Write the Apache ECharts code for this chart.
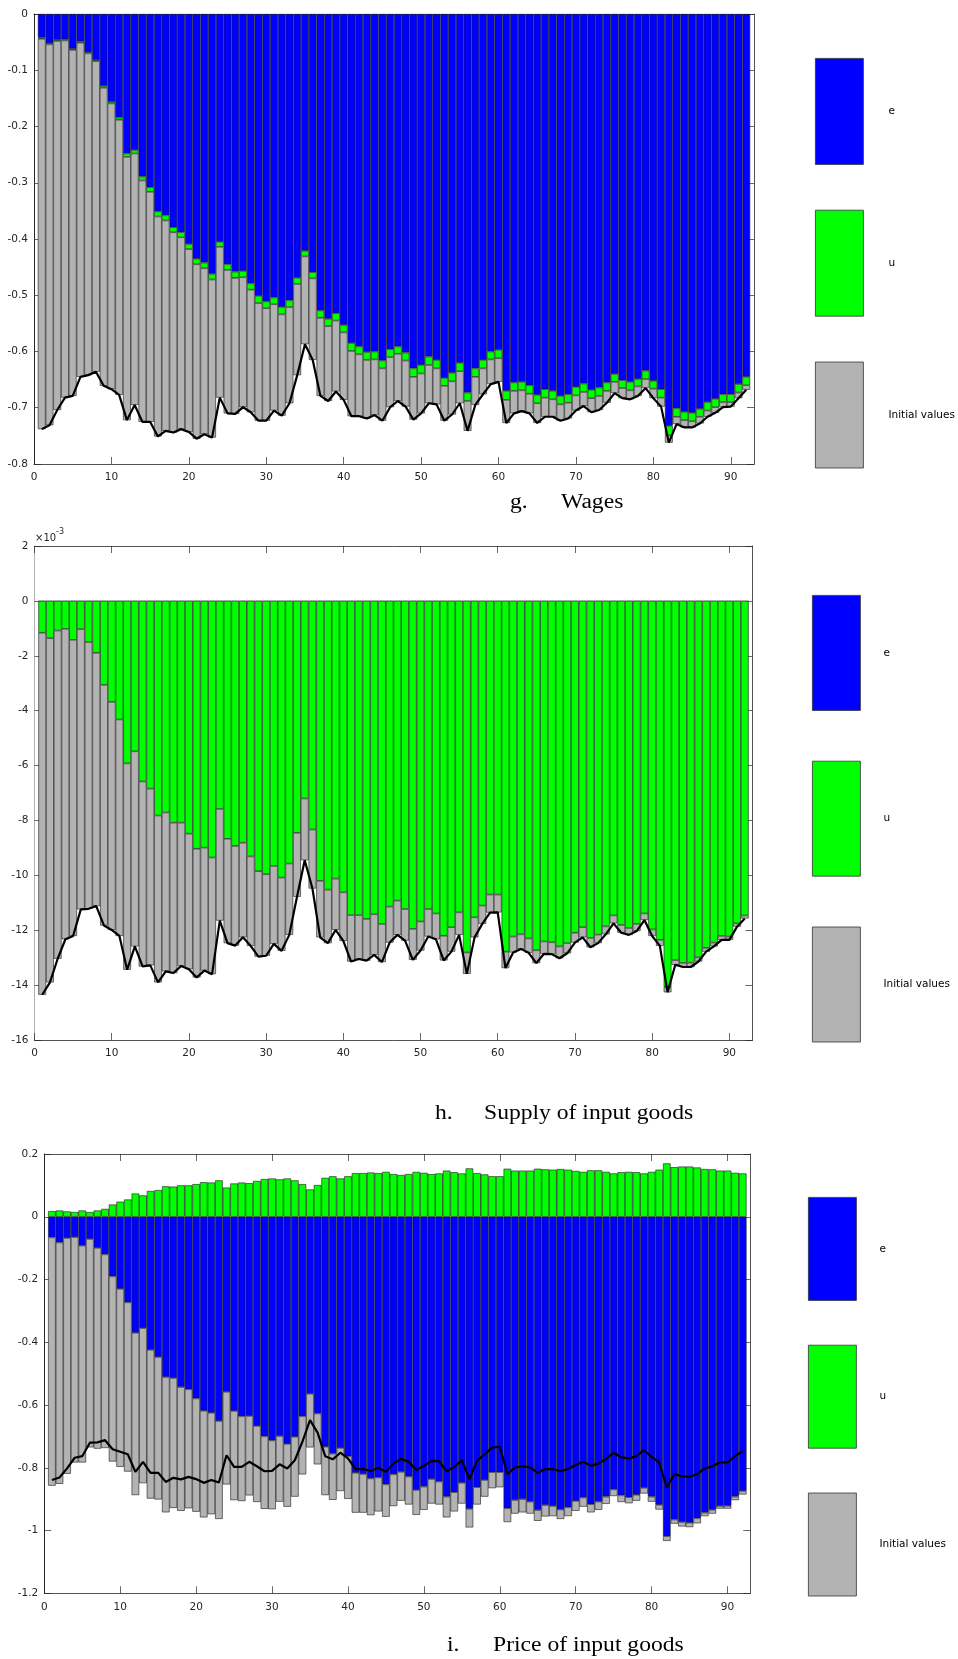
<!DOCTYPE html>
<html>
<head>
<meta charset="utf-8">
<script src="https://cdn.jsdelivr.net/npm/echarts@6/dist/echarts.min.js"></script>
<style>
  html, body { margin: 0; padding: 0; background: #ffffff; }
  #chart { width: 958px; height: 1659px; }
</style>
</head>
<body>
<div id="chart"></div>
<script>
// Periods on the horizontal axis
const periods = [1,2,3,4,5,6,7,8,9,10,11,12,13,14,15,16,17,18,19,20,21,22,23,24,25,26,27,28,29,30,
  31,32,33,34,35,36,37,38,39,40,41,42,43,44,45,46,47,48,49,50,51,52,53,54,55,56,57,58,59,60,
  61,62,63,64,65,66,67,68,69,70,71,72,73,74,75,76,77,78,79,80,81,82,83,84,85,86,87,88,89,90,91,92];
const xLimits = [0, 93];
const xTickLabels = ['0','10','20','30','40','50','60','70','80','90'];
const legendNames = ['e', 'u', 'Initial values'];

// g. Wages — contributions of e, u and the initial values
const wagesE = [-0.042,-0.052,-0.046,-0.045,-0.062,-0.049,-0.068,-0.082,-0.128,-0.156,
  -0.184,-0.248,-0.242,-0.289,-0.308,-0.351,-0.358,-0.379,-0.388,-0.409,
  -0.435,-0.442,-0.462,-0.405,-0.445,-0.458,-0.457,-0.479,-0.501,-0.511,
  -0.504,-0.521,-0.509,-0.469,-0.421,-0.459,-0.527,-0.542,-0.532,-0.553,
  -0.585,-0.591,-0.601,-0.600,-0.616,-0.596,-0.591,-0.602,-0.630,-0.624,
  -0.609,-0.615,-0.647,-0.638,-0.620,-0.673,-0.630,-0.615,-0.600,-0.597,
  -0.670,-0.655,-0.654,-0.660,-0.677,-0.667,-0.670,-0.679,-0.676,-0.663,
  -0.657,-0.668,-0.664,-0.655,-0.640,-0.651,-0.654,-0.649,-0.634,-0.652,
  -0.667,-0.732,-0.701,-0.707,-0.709,-0.702,-0.690,-0.684,-0.676,-0.676,
  -0.658,-0.645];
const wagesU = [-0.002,-0.002,-0.002,-0.002,-0.002,-0.002,-0.002,-0.002,-0.003,-0.003,
  -0.004,-0.006,-0.006,-0.007,-0.008,-0.009,-0.009,-0.009,-0.009,-0.009,
  -0.010,-0.010,-0.010,-0.009,-0.010,-0.011,-0.011,-0.011,-0.013,-0.012,
  -0.012,-0.013,-0.012,-0.011,-0.010,-0.011,-0.013,-0.013,-0.013,-0.013,
  -0.014,-0.014,-0.014,-0.014,-0.014,-0.014,-0.013,-0.014,-0.015,-0.015,
  -0.015,-0.015,-0.014,-0.015,-0.015,-0.015,-0.015,-0.015,-0.014,-0.015,
  -0.016,-0.015,-0.015,-0.015,-0.015,-0.015,-0.015,-0.015,-0.015,-0.015,
  -0.015,-0.015,-0.015,-0.015,-0.014,-0.014,-0.015,-0.013,-0.015,-0.014,
  -0.015,-0.017,-0.015,-0.015,-0.015,-0.014,-0.015,-0.015,-0.014,-0.014,
  -0.015,-0.015];
const wagesInit = [-0.694,-0.677,-0.656,-0.635,-0.615,-0.594,-0.572,-0.552,-0.530,-0.508,
  -0.489,-0.468,-0.447,-0.429,-0.409,-0.391,-0.374,-0.356,-0.341,-0.325,
  -0.310,-0.295,-0.281,-0.268,-0.255,-0.242,-0.231,-0.218,-0.209,-0.200,
  -0.189,-0.180,-0.171,-0.162,-0.156,-0.145,-0.139,-0.133,-0.126,-0.120,
  -0.116,-0.110,-0.104,-0.099,-0.093,-0.089,-0.084,-0.082,-0.076,-0.071,
  -0.068,-0.064,-0.062,-0.059,-0.057,-0.053,-0.050,-0.046,-0.044,-0.042,
  -0.041,-0.040,-0.037,-0.035,-0.035,-0.034,-0.031,-0.029,-0.028,-0.027,
  -0.025,-0.025,-0.025,-0.021,-0.020,-0.018,-0.016,-0.017,-0.016,-0.017,
  -0.016,-0.013,-0.013,-0.013,-0.011,-0.012,-0.011,-0.010,-0.009,-0.008,
  -0.010,-0.008];

// h. Supply of input goods (values in units of 10^-3)
const supplyE = [0,0,0,0,0,0,0,0,0,0,0,0,0,0,0,0,0,0,0,0,0,0,0,0,0,0,0,0,0,0,
  0,0,0,0,0,0,0,0,0,0,0,0,0,0,0,0,0,0,0,0,0,0,0,0,0,0,0,0,0,0,
  0,0,0,0,0,0,0,0,0,0,0,0,0,0,0,0,0,0,0,0,0,0,0,0,0,0,0,0,0,0,0,0];
const supplyU = [-1.16,-1.36,-1.08,-1.02,-1.42,-1.03,-1.50,-1.89,-3.06,-3.68,
  -4.32,-5.92,-5.48,-6.58,-6.84,-7.82,-7.71,-8.08,-8.08,-8.48,
  -9.03,-8.99,-9.35,-7.58,-8.67,-8.93,-8.81,-9.31,-9.85,-9.96,
  -9.66,-10.08,-9.57,-8.45,-7.20,-8.33,-10.20,-10.52,-10.12,-10.62,
  -11.45,-11.45,-11.59,-11.42,-11.77,-11.14,-10.92,-11.23,-11.95,-11.68,
  -11.23,-11.39,-12.20,-11.89,-11.35,-12.81,-11.53,-11.10,-10.70,-10.70,
  -12.78,-12.23,-12.15,-12.30,-12.73,-12.41,-12.44,-12.59,-12.47,-12.09,
  -11.89,-12.28,-12.16,-11.86,-11.46,-11.81,-11.92,-11.77,-11.39,-11.97,
  -12.35,-14.07,-13.09,-13.19,-13.18,-12.99,-12.64,-12.45,-12.21,-12.23,
  -11.75,-11.46];
const supplyInit = [-13.19,-12.54,-11.96,-11.31,-10.79,-10.21,-9.72,-9.23,-8.77,-8.31,
  -7.89,-7.52,-7.11,-6.74,-6.44,-6.08,-5.79,-5.48,-5.22,-4.94,
  -4.69,-4.48,-4.25,-4.07,-3.80,-3.63,-3.45,-3.26,-3.11,-2.97,
  -2.84,-2.67,-2.60,-2.33,-2.25,-2.15,-2.06,-1.95,-1.87,-1.77,
  -1.69,-1.60,-1.52,-1.48,-1.39,-1.31,-1.25,-1.15,-1.13,-1.06,
  -1.00,-0.94,-0.90,-0.89,-0.82,-0.78,-0.73,-0.67,-0.66,-0.65,
  -0.60,-0.58,-0.53,-0.52,-0.47,-0.45,-0.43,-0.43,-0.37,-0.36,
  -0.37,-0.34,-0.31,-0.29,-0.29,-0.28,-0.25,-0.26,-0.24,-0.24,
  -0.22,-0.19,-0.17,-0.15,-0.16,-0.15,-0.14,-0.14,-0.14,-0.12,
  -0.12,-0.11];

// i. Price of input goods
const priceE = [-0.066,-0.082,-0.068,-0.065,-0.092,-0.071,-0.099,-0.120,-0.190,-0.230,
  -0.273,-0.370,-0.355,-0.424,-0.447,-0.511,-0.514,-0.543,-0.550,-0.579,
  -0.618,-0.625,-0.651,-0.558,-0.619,-0.636,-0.635,-0.667,-0.700,-0.713,
  -0.699,-0.724,-0.701,-0.636,-0.564,-0.627,-0.733,-0.755,-0.737,-0.763,
  -0.816,-0.820,-0.834,-0.831,-0.853,-0.821,-0.813,-0.828,-0.871,-0.860,
  -0.836,-0.844,-0.892,-0.878,-0.848,-0.931,-0.862,-0.839,-0.814,-0.814,
  -0.929,-0.903,-0.900,-0.908,-0.935,-0.919,-0.922,-0.933,-0.926,-0.906,
  -0.895,-0.916,-0.908,-0.892,-0.869,-0.888,-0.894,-0.886,-0.864,-0.892,
  -0.918,-1.018,-0.965,-0.973,-0.975,-0.961,-0.943,-0.934,-0.922,-0.921,
  -0.892,-0.874];
const priceU = [0.018,0.020,0.017,0.015,0.020,0.015,0.020,0.025,0.039,0.048,
  0.055,0.074,0.068,0.082,0.085,0.097,0.096,0.100,0.100,0.104,
  0.110,0.109,0.116,0.093,0.106,0.109,0.107,0.114,0.120,0.122,
  0.119,0.122,0.116,0.104,0.087,0.101,0.124,0.129,0.122,0.129,
  0.139,0.139,0.141,0.139,0.143,0.136,0.133,0.136,0.143,0.140,
  0.136,0.138,0.147,0.142,0.138,0.154,0.139,0.135,0.129,0.129,
  0.153,0.147,0.147,0.147,0.153,0.151,0.150,0.152,0.150,0.146,
  0.143,0.148,0.148,0.143,0.138,0.142,0.143,0.142,0.138,0.143,
  0.150,0.170,0.158,0.160,0.160,0.157,0.152,0.151,0.147,0.147,
  0.140,0.138];
const priceInit = [-0.791,-0.769,-0.751,-0.718,-0.691,-0.664,-0.640,-0.617,-0.590,-0.567,
  -0.539,-0.517,-0.494,-0.474,-0.454,-0.431,-0.414,-0.394,-0.379,-0.361,
  -0.340,-0.323,-0.312,-0.295,-0.284,-0.270,-0.253,-0.242,-0.231,-0.219,
  -0.209,-0.200,-0.191,-0.185,-0.171,-0.162,-0.154,-0.147,-0.137,-0.136,
  -0.127,-0.123,-0.117,-0.108,-0.103,-0.101,-0.092,-0.089,-0.079,-0.074,
  -0.078,-0.073,-0.066,-0.061,-0.066,-0.059,-0.055,-0.053,-0.051,-0.048,
  -0.044,-0.043,-0.042,-0.038,-0.034,-0.036,-0.032,-0.030,-0.028,-0.031,
  -0.029,-0.026,-0.026,-0.023,-0.021,-0.021,-0.019,-0.019,-0.018,-0.016,
  -0.015,-0.015,-0.013,-0.014,-0.014,-0.016,-0.011,-0.012,-0.008,-0.009,
  -0.011,-0.011];

// Layout of the three stacked panels
const panels = [
  { e: wagesE, u: wagesU, init: wagesInit,
    grid: { left: 34, top: 14, width: 720, height: 450 },
    y: { min: -0.8, max: 0, interval: 0.1 },
    leftAxisColor: '#262626', zeroEdge: '#1a1a1a',
    legend: { left: 815, top: 58, itemHeight: 106, itemGap: 45, textPad: 20 } },
  { e: supplyE, u: supplyU, init: supplyInit,
    grid: { left: 34.5, top: 546, width: 718, height: 494 },
    y: { min: -16, max: 2, interval: 2 },
    leftAxisColor: '#b4b4b4', zeroEdge: '#a8a8a8',
    legend: { left: 812, top: 595, itemHeight: 115, itemGap: 50, textPad: 18 } },
  { e: priceE, u: priceU, init: priceInit,
    grid: { left: 44.3, top: 1154, width: 706, height: 439.3 },
    y: { min: -1.2, max: 0.2, interval: 0.2 },
    leftAxisColor: '#262626', zeroEdge: '#1a1a1a',
    legend: { left: 808, top: 1197, itemHeight: 103, itemGap: 44, textPad: 18 } }
];

// Category slots run from the left axis limit to the right one; bars sit on 1..92
const slots = [String(xLimits[0])].concat(periods.map(String), [String(xLimits[1])]);
const padded = arr => [null].concat(arr, [null]);
const isTick = idx => xTickLabels.indexOf(slots[idx]) >= 0;

const AXIS_COLOR = '#262626';
const SANS = '"DejaVu Sans", Verdana, sans-serif';
const LABEL_FONT = { fontFamily: SANS, fontSize: 10.5, color: AXIS_COLOR };
const BLUE = '#0000ff', GREEN = '#00ff00', GREY = '#b3b3b3';
const EDGE = { borderColor: '#1a1a1a', borderWidth: 0.6 };

const grids = [], xAxes = [], yAxes = [], series = [], legends = [];

panels.forEach((p, k) => {
  grids.push(Object.assign({ containLabel: false }, p.grid));

  const tickCommon = { show: true, inside: true, length: 7, interval: idx => isTick(idx),
    lineStyle: { color: AXIS_COLOR, width: 0.7 } };
  const yTick = { show: true, inside: true, length: 7, lineStyle: { color: AXIS_COLOR, width: 0.7 } };
  const lineCommon = { show: true, onZero: false, lineStyle: { color: AXIS_COLOR, width: 0.8 } };

  // bottom x axis with labels, top x axis as box edge
  xAxes.push({
    type: 'category', data: slots, boundaryGap: false, gridIndex: k, position: 'bottom',
    axisLine: lineCommon, axisTick: tickCommon, splitLine: { show: false },
    axisLabel: Object.assign({ margin: 8, interval: idx => isTick(idx) }, LABEL_FONT)
  });
  xAxes.push({
    type: 'category', data: slots, boundaryGap: false, gridIndex: k, position: 'top',
    axisLine: lineCommon, axisTick: tickCommon, splitLine: { show: false },
    axisLabel: { show: false }
  });
  // left y axis with labels, right y axis as box edge
  yAxes.push({
    type: 'value', gridIndex: k, min: p.y.min, max: p.y.max, interval: p.y.interval, position: 'left',
    axisLine: { show: true, onZero: false, lineStyle: { color: p.leftAxisColor, width: 1 } },
    axisTick: yTick, splitLine: { show: false },
    axisLabel: Object.assign({ margin: 6 }, LABEL_FONT)
  });
  yAxes.push({
    type: 'value', gridIndex: k, min: p.y.min, max: p.y.max, interval: p.y.interval, position: 'right',
    axisLine: lineCommon, axisTick: yTick, splitLine: { show: false },
    axisLabel: { show: false }
  });

  const xi = 2 * k, yi = 2 * k;
  const barBase = {
    type: 'bar', stack: 'panel' + k, xAxisIndex: xi, yAxisIndex: yi,
    barCategoryGap: '0%', emphasis: { disabled: true }, animation: false
  };
  series.push(Object.assign({}, barBase, {
    name: 'e', data: padded(p.e),
    itemStyle: { color: BLUE, borderColor: p.zeroEdge, borderWidth: EDGE.borderWidth }
  }));
  series.push(Object.assign({}, barBase, {
    name: 'u', data: padded(p.u), itemStyle: Object.assign({ color: GREEN }, EDGE)
  }));
  series.push(Object.assign({}, barBase, {
    name: 'Initial values', data: padded(p.init), itemStyle: Object.assign({ color: GREY }, EDGE)
  }));
  // total of the three contributions
  series.push({
    type: 'line', name: 'total', xAxisIndex: xi, yAxisIndex: yi, z: 5,
    data: padded(periods.map((x, i) => +(p.e[i] + p.u[i] + p.init[i]).toFixed(5))),
    symbol: 'none', lineStyle: { color: '#000000', width: 2.2 },
    emphasis: { disabled: true }, animation: false
  });

  legends.push({
    data: legendNames, orient: 'vertical', left: p.legend.left, top: p.legend.top,
    padding: 0, icon: 'rect', itemWidth: 48, itemHeight: p.legend.itemHeight, itemGap: p.legend.itemGap,
    selectedMode: false,
    itemStyle: { borderColor: '#333333', borderWidth: 0.8 },
    textStyle: { fontFamily: SANS, fontSize: 10.5, color: '#000000', padding: [16, 0, 0, p.legend.textPad] }
  });
});

const SERIF = '"Liberation Serif", "Times New Roman", serif';
// captions are set in a serif face, slightly widened
const caption = (x, y, text) => ({
  type: 'text', x: x, y: y, scaleX: 1.18, silent: true,
  style: { text: text, fill: '#000000', font: '20px ' + SERIF, align: 'left', verticalAlign: 'middle' }
});

const graphics = [
  caption(510, 503, 'g.'), caption(561, 503, 'Wages'),
  caption(435, 1114, 'h.'), caption(484, 1114, 'Supply of input goods'),
  caption(447, 1646, 'i.'), caption(493, 1646, 'Price of input goods'),
  { type: 'text', x: 35, y: 538, silent: true,
    style: { text: '×10', fill: AXIS_COLOR, font: '10px ' + SANS, align: 'left', verticalAlign: 'middle' } },
  { type: 'text', x: 56, y: 532, silent: true,
    style: { text: '-3', fill: AXIS_COLOR, font: '8px ' + SANS, align: 'left', verticalAlign: 'middle' } }
];

const chart = echarts.init(document.getElementById('chart'), null, { renderer: 'canvas' });
chart.setOption({
  backgroundColor: '#ffffff',
  animation: false,
  grid: grids,
  xAxis: xAxes,
  yAxis: yAxes,
  legend: legends,
  series: series,
  graphic: graphics
});
</script>
</body>
</html>
